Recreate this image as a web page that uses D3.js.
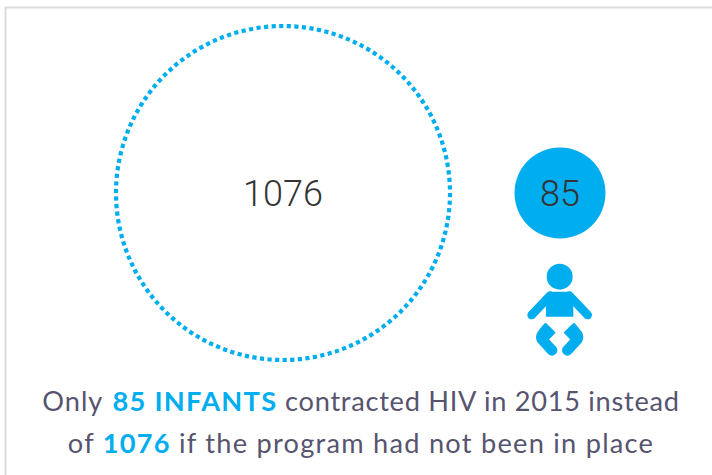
<!DOCTYPE html>
<html><head><meta charset="utf-8">
<script src="https://cdn.jsdelivr.net/npm/d3@7/dist/d3.min.js"></script>
<style>html,body{margin:0;padding:0;background:#fff;overflow:hidden}svg{display:block}</style>
</head><body><svg id="c" width="712" height="475"></svg>
<script>
const labels = ["without program", "with program"];
const values = [1076, 85];
const captionLine1 = [["Only ", 0], ["85 INFANTS", 1], [" contracted HIV in 2015 instead", 0]];
const captionLine2 = [["of ", 0], ["1076", 1], [" if the program had not been in place", 0]];

const blue = "#00aeef", ink = "#333333", cap = "#57546f";
const svg = d3.select("#c");
svg.append("path").attr("d", "M5.5 475V7.5H712").attr("fill", "none").attr("stroke", "#dcdcdc").attr("stroke-width", 2);

const x = d3.scalePoint().domain(labels).range([283, 560]);
const r = d3.scaleSqrt().domain([85, 1076]).range([45.5, 167]);
const cy = 193;

const g = svg.selectAll("g.bub").data(values).join("g").attr("class", "bub")
  .attr("transform", (d, i) => `translate(${x(labels[i])},${cy})`);
g.append("circle").attr("r", d => r(d))
  .attr("fill", (d, i) => i ? blue : "none")
  .attr("stroke", (d, i) => i ? "none" : blue)
  .attr("stroke-width", 4.2)
  .attr("stroke-dasharray", "4.2 3.4");
g.append("text").text(d => d).attr("text-anchor", "middle").attr("y", (d, i) => i ? 12.5 : 13)
  .attr("font-family", "Roboto").attr("font-weight", 300)
  .attr("font-size", 36).attr("fill", ink);

// baby icon, drawn in the zoomed crop's local units
const icon = svg.append("g").attr("transform", "translate(500,140) scale(0.3333)").attr("fill", blue);
icon.append("circle").attr("cx", 179).attr("cy", 410).attr("r", 39);
icon.append("path").attr("d", "M150 455H208L220 468V530H138V468Z");
icon.selectAll("line").data([[150, 95], [208, 263]]).join("line")
  .attr("x1", d => d[0]).attr("y1", 467).attr("x2", d => d[1]).attr("y2", 525)
  .attr("stroke", blue).attr("stroke-width", 26).attr("stroke-linecap", "round");
const diaper = "M136 553L162 578L142 598L164 622A12 12 0 0 1 148 640L116 605Q108 590 116 578Z";
icon.append("path").attr("d", diaper).attr("stroke", blue).attr("stroke-width", 8).attr("stroke-linejoin", "round");
icon.append("path").attr("d", diaper).attr("transform", "translate(358,0) scale(-1,1)").attr("stroke", blue).attr("stroke-width", 8).attr("stroke-linejoin", "round");

[[captionLine1, 411, [0.95, 1.3, 0.72], [0, 2, 0]], [captionLine2, 453, [1.25, 1.25, 1.25], [0, 0, 0]]].forEach(([line, y, sp, dx]) => {
  const t = svg.append("text").attr("x", 361).attr("y", y).attr("text-anchor", "middle")
    .attr("font-family", "Lato").attr("font-size", 27.2)
    .attr("fill", cap).attr("xml:space", "preserve").style("white-space", "pre");
  line.forEach(([s, em], i) => t.append("tspan").text(s).attr("dx", dx[i]).attr("letter-spacing", sp[i])
    .attr("font-weight", em ? 700 : 400).attr("fill", em ? blue : cap));
});
</script></body></html>
